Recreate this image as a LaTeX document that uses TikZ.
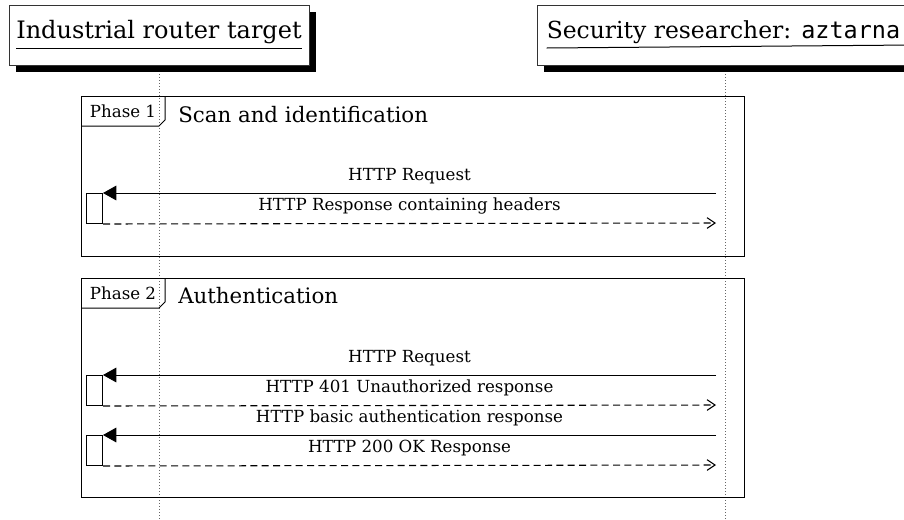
\documentclass[tikz,border=0pt]{standalone}
\usepackage{fontspec}
\setmainfont{DejaVu Serif}
\setmonofont{DejaVu Sans Mono}
\usetikzlibrary{positioning}
\usetikzlibrary{arrows.meta}
\usetikzlibrary{shadows}

\begin{document}
\begin{tikzpicture}[x=0.75pt,y=-0.75pt,
    actor/.style={draw=black!80,fill=white,line width=0.75pt,minimum height=45pt,
      drop shadow={shadow xshift=5.25pt,shadow yshift=-5.25pt,fill=black,opacity=1}},
    actortext/.style={font=\fontsize{18}{20}\selectfont,inner sep=0pt,anchor=base},
    lifeline/.style={draw=black!60,line width=0.75pt,dash pattern=on 0.75pt off 1.5pt},
    frame/.style={draw,line width=0.75pt,anchor=north west,minimum width=497.25pt,inner sep=0pt},
    tabtext/.style={font=\fontsize{12.5}{14}\selectfont,inner sep=0pt,anchor=base},
    frametitle/.style={font=\fontsize{16}{18}\selectfont,inner sep=0pt,anchor=base west},
    activation/.style={draw,fill=white,line width=0.75pt,anchor=north west,inner sep=0pt,
      minimum width=12pt,minimum height=22.5pt},
    msgcall/.style={draw,line width=0.75pt,-{Triangle[length=10pt,width=11pt]}},
    msgreturn/.style={draw,line width=0.8pt,dash pattern=on 5.25pt off 3.25pt,
      -{Straight Barb[length=6pt,width=8pt]}},
    msglabel/.style={font=\fontsize{12.5}{14}\selectfont,inner sep=0pt,anchor=base,yshift=9.4pt}]
    \useasboundingbox (0,0) rectangle (904,519);

    % lifelines
    \coordinate (lifeAend) at (159,519);
    \coordinate (lifeBend) at (725,519);
    \draw[lifeline] (159,65) -- (lifeAend);
    \draw[lifeline] (725,65) -- (lifeBend);

    % participants
    \node[actor,minimum width=225pt] (hdrA) at (159,35) {};
    \node[actortext] (hdrAtxt) at (159,38) {Industrial router target};
    \draw[line width=0.75pt] ([yshift=-7.5pt]hdrAtxt.base west) -- ([yshift=-7.5pt]hdrAtxt.base east);
    \node[actor,minimum width=282pt] (hdrB) at (725,35) {};
    \node[actortext,anchor=base west,font=\fontsize{17.6}{20}\selectfont] (hdrBtxt) at (546.5,38) {Security researcher: \texttt{aztarna}};
    \draw[line width=0.75pt] ([yshift=-7.5pt]hdrBtxt.base west) -- ([yshift=-7.5pt]hdrB.base east);

    % phase 1
    \node[frame,minimum height=120pt] (frameA) at (81,96) {};
    \draw[line width=0.75pt] (frameA.north west) ++(84,0) -- ++(0,24) -- ++(-6,6) -- ++(-78,0);
    \node[tabtext] (tabA) at (123,117) {Phase 1};
    \node[frametitle] (titleA) at (178,122) {Scan and identification};

    \coordinate (srcA) at (716,193);
    \coordinate (dstA) at (716,223);
    \node[activation] (actA) at (86,193) {};
    \draw[msgcall] (srcA) -- node[msglabel] (lblA) {HTTP Request} (actA.north east);
    \draw[msgreturn] (actA.south east) -- node[msglabel] (lblB) {HTTP Response containing headers} (dstA);

    % phase 2
    \node[frame,minimum height=164.25pt] (frameB) at (81,278) {};
    \draw[line width=0.75pt] (frameB.north west) ++(84,0) -- ++(0,24) -- ++(-6,6) -- ++(-78,0);
    \node[tabtext] (tabB) at (123,299) {Phase 2};
    \node[frametitle] (titleB) at (178,303) {Authentication};

    \coordinate (srcB) at (716,375);
    \coordinate (dstB) at (716,405);
    \coordinate (srcC) at (716,435);
    \coordinate (dstC) at (716,465);
    \node[activation] (actB) at (86,375) {};
    \node[activation] (actC) at (86,435) {};
    \draw[msgcall] (srcB) -- node[msglabel] (lblC) {HTTP Request} (actB.north east);
    \draw[msgreturn] (actB.south east) -- node[msglabel] (lblD) {HTTP 401 Unauthorized response} (dstB);
    \draw[msgcall] (srcC) -- node[msglabel] (lblE) {HTTP basic authentication response} (actC.north east);
    \draw[msgreturn] (actC.south east) -- node[msglabel] (lblF) {HTTP 200 OK Response} (dstC);
\end{tikzpicture}
\end{document}
